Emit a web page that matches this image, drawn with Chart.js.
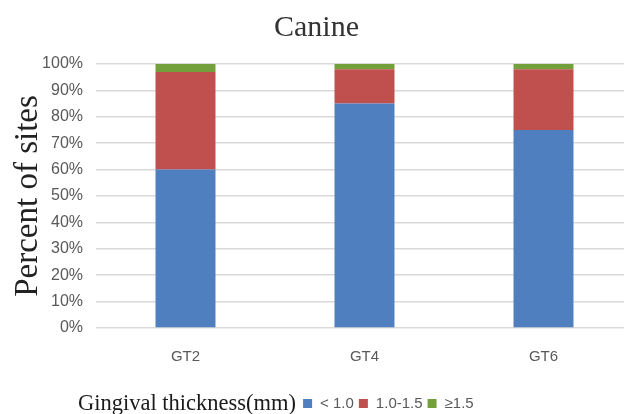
<!DOCTYPE html>
<html>
<head>
<meta charset="utf-8">
<script src="https://cdn.jsdelivr.net/npm/chart.js@4/dist/chart.umd.min.js"></script>
<style>
  html, body { margin: 0; padding: 0; background: #fff; overflow: hidden; }
  #wrap { width: 640px; height: 414px; }
</style>
</head>
<body>
<div id="wrap"><canvas id="c" width="640" height="414"></canvas></div>
<script>
// Share of sites per gingival thickness class, by group
const categories = ['GT2', 'GT4', 'GT6'];
const seriesLabels = ['< 1.0', '1.0-1.5', '≥1.5'];
const thinValues = [60, 85, 75];
const mediumValues = [37, 13, 23];
const thickValues = [3, 2, 2];
const yTicks = [0, 10, 20, 30, 40, 50, 60, 70, 80, 90, 100];

const colors = ['#4F7FBE', '#C0504D', '#74A03C'];

// Legend drawn on one line with its caption to the left
const legendLine = {
  id: 'legendLine',
  afterDraw(chart) {
    const ctx = chart.ctx;
    const y = 403;
    ctx.save();
    ctx.textBaseline = 'middle';
    ctx.textAlign = 'left';
    ctx.fillStyle = '#1a1a1a';
    ctx.font = '22.5px "Liberation Serif", "Times New Roman", serif';
    let x = 78;
    const caption = 'Gingival thickness(mm)';
    ctx.fillText(caption, x, y + 1);
    x += ctx.measureText(caption).width + 7;
    ctx.font = '15px "Liberation Sans", Arial, sans-serif';
    chart.data.datasets.forEach(ds => {
      ctx.fillStyle = ds.backgroundColor;
      ctx.fillRect(x, y - 4, 9, 9);
      x += 9 + 8;
      ctx.fillStyle = '#595959';
      ctx.fillText(ds.label, x, y + 1);
      x += ctx.measureText(ds.label).width + 5;
    });
    ctx.restore();
  }
};

new Chart(document.getElementById('c'), {
  type: 'bar',
  data: {
    labels: categories,
    datasets: [
      { label: seriesLabels[0], data: thinValues, backgroundColor: colors[0] },
      { label: seriesLabels[1], data: mediumValues, backgroundColor: colors[1] },
      { label: seriesLabels[2], data: thickValues, backgroundColor: colors[2] }
    ]
  },
  options: {
    responsive: false,
    animation: false,
    devicePixelRatio: 1,
    layout: { padding: { left: 0, right: 7, top: 0, bottom: 46 } },
    datasets: { bar: { categoryPercentage: 1, barPercentage: 0.335 } },
    plugins: {
      legend: { display: false },
      tooltip: { enabled: false },
      title: {
        display: true,
        text: 'Canine',
        color: '#333',
        font: { family: '"Liberation Serif", "Times New Roman", serif', size: 30, weight: 'normal' },
        padding: { top: 10, bottom: 18 }
      }
    },
    scales: {
      x: {
        stacked: true,
        grid: { display: false },
        border: { display: false },
        ticks: {
          color: '#595959',
          padding: 12,
          font: { family: '"Liberation Sans", Arial, sans-serif', size: 15 }
        },
        afterFit(scale) { scale.height = 40; }
      },
      y: {
        stacked: true,
        min: 0,
        max: 100,
        afterBuildTicks(scale) { scale.ticks = yTicks.map(v => ({ value: v })); },
        grid: { color: '#D9D9D9', lineWidth: 1.5, drawTicks: false },
        border: { display: false },
        ticks: {
          color: '#595959',
          padding: 13,
          font: { family: '"Liberation Sans", Arial, sans-serif', size: 16 },
          callback: v => v + '%'
        },
        title: {
          display: true,
          text: 'Percent of sites',
          color: '#222',
          padding: { top: 9, bottom: 0 },
          font: { family: '"Liberation Serif", "Times New Roman", serif', size: 33, weight: 'normal' }
        },
        afterFit(scale) { scale.width = 96; }
      }
    }
  },
  plugins: [legendLine]
});
</script>
</body>
</html>
